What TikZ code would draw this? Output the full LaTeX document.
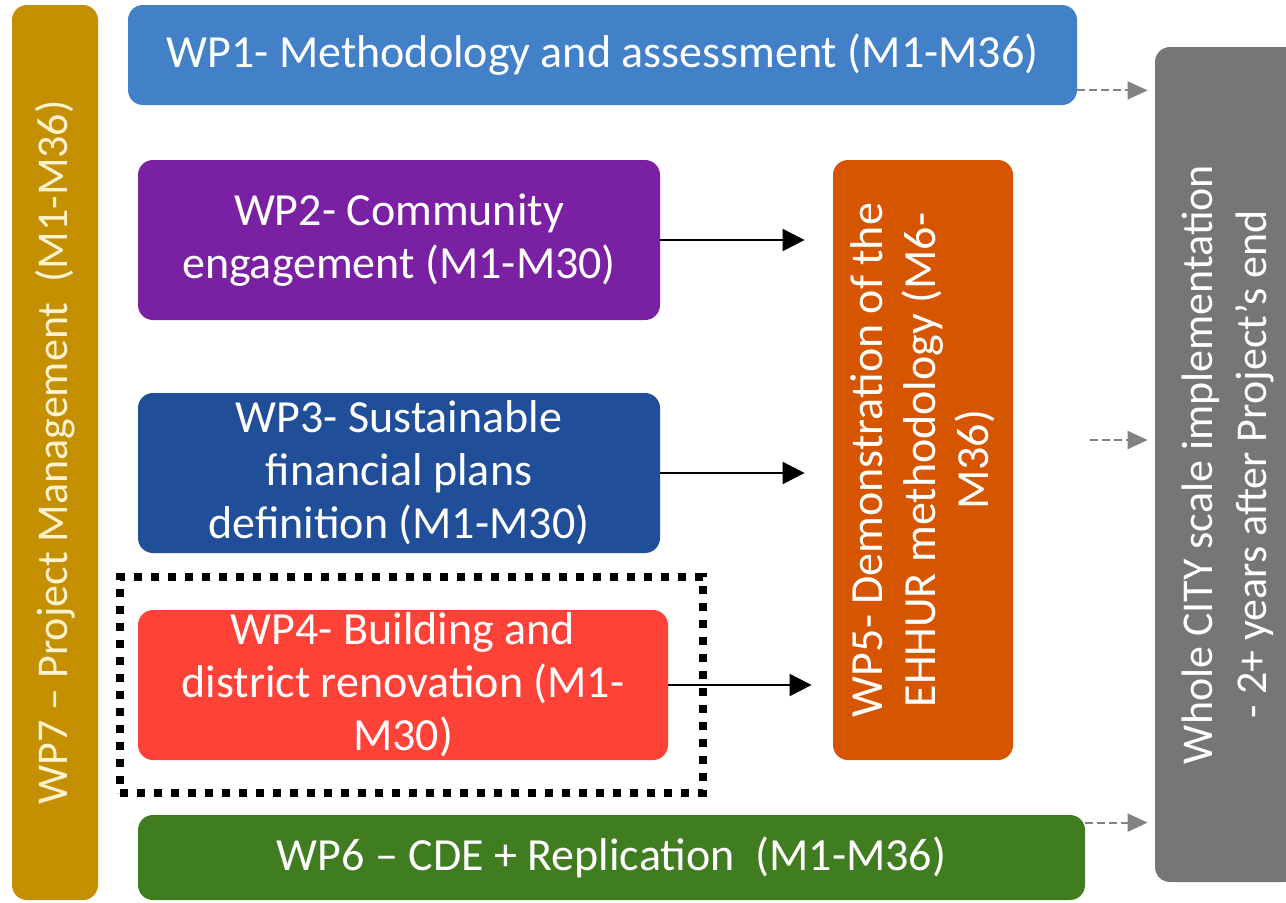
\documentclass[tikz,border=0pt]{standalone}
\usepackage{fontspec}
\setmainfont{Carlito}
\usetikzlibrary{positioning,arrows.meta,calc}

\definecolor{wpgold}{RGB}{196,143,0}
\definecolor{wpblue}{RGB}{66,128,199}
\definecolor{wppurple}{RGB}{122,32,162}
\definecolor{wpnavy}{RGB}{33,78,152}
\definecolor{wpred}{RGB}{255,66,56}
\definecolor{wporange}{RGB}{214,85,0}
\definecolor{wpgreen}{RGB}{64,125,32}
\definecolor{wpgray}{RGB}{118,118,118}
\definecolor{wpdash}{RGB}{130,130,130}
\definecolor{wpcream}{RGB}{255,242,204}

\tikzset{
  wpbox/.style={rounded corners=7.5pt, text=white, align=center, inner sep=0pt,
    font=\fontsize{23}{26.5}\selectfont},
  solidarrow/.style={-{Triangle[length=11pt,width=11pt]}, line width=1pt, black},
  dasharrow/.style={-{Triangle[length=10pt,width=9pt]}, line width=1pt, wpdash,
    dash pattern=on 4pt off 2pt, shorten >=3.5pt},
}

\begin{document}
\begin{tikzpicture}[x=0.5pt,y=-0.5pt]

  \useasboundingbox (0,0) rectangle (1286,902);

  \node[wpbox, fill=wpgold, text=wpcream, rotate=90, minimum width=447.5pt, minimum height=43pt, font=\fontsize{22}{26.5}\selectfont] (wp7) at (55,452.5) {WP7 -- Project Management \ (M1-M36)};
  \node[wpbox, fill=wpblue, minimum width=474.5pt, minimum height=50pt] (wp1) at (602.5,55) {WP1- Methodology and assessment (M1-M36)};
  \node[wpbox, fill=wppurple, minimum width=261pt, minimum height=80pt] (wp2) at (399,240) {WP2- Community\\engagement (M1-M30)};
  \node[wpbox, fill=wpnavy, minimum width=261pt, minimum height=80pt] (wp3) at (399,473) {WP3- Sustainable\\financial plans\\definition (M1-M30)};
  \node[wpbox, fill=wpred, minimum width=265pt, minimum height=75pt] (wp4) at (403,685) {WP4- Building and\\district renovation (M1-\\M30)};
  \node[draw, line width=4pt, dash pattern=on 4pt off 4.5pt, minimum width=291.5pt, minimum height=108pt] (wp4frame) at (411.5,685) {};
  \node[wpbox, fill=wporange, rotate=90, minimum width=300pt, minimum height=90pt] (wp5) at (923,460) {WP5- Demonstration of the\\EHHUR methodology (M6-\\M36)};
  \node[wpbox, fill=wpgreen, minimum width=473.5pt, minimum height=42.5pt] (wp6) at (611.5,857.5) {WP6 -- CDE + Replication \ (M1-M36)};
  \node[wpbox, fill=wpgray, rotate=90, minimum width=417.5pt, minimum height=72.5pt, font=\fontsize{22}{27}\selectfont] (city) at (1227.5,464.5) {Whole CITY scale implementation\\- 2+ years after Project’s end};

  \coordinate (d1) at ([yshift=7.5pt]wp1.south east);
  \coordinate (d2) at (1090,440);
  \coordinate (d3) at ([yshift=-4pt]wp6.north east);

  % rotated boxes: north is the left side on the page
  \path[solidarrow, shorten >=14pt] (wp2.east) edge (wp2.east -| wp5.north);
  \path[solidarrow, shorten >=14pt] (wp3.east) edge (wp3.east -| wp5.north);
  \path[solidarrow, shorten >=10.5pt] (wp4.east) edge (wp4.east -| wp5.north);

  \path[dasharrow] (d1) edge (d1 -| city.north);
  \path[dasharrow] (d2) edge (d2 -| city.north);
  \path[dasharrow] (d3) edge (d3 -| city.north);

\end{tikzpicture}
\end{document}
